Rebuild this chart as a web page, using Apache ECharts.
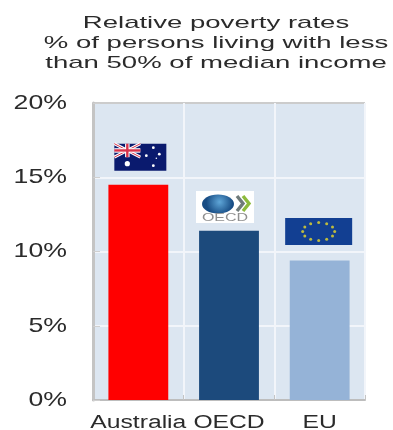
<!DOCTYPE html>
<html>
<head>
<meta charset="utf-8">
<style>
  html, body { margin: 0; padding: 0; background: #fff; }
  #chart { width: 393px; height: 430px; }
</style>
<script src="https://cdn.jsdelivr.net/npm/echarts@6/dist/echarts.min.js"></script>
</head>
<body>
<div id="chart"></div>
<script>
const titleLines = [
  'Relative poverty rates',
  '% of persons living with less',
  'than 50% of median income'
];
const categories = ['Australia', 'OECD', 'EU'];
const povertyRates = [14.5, 11.4, 9.4];
const barColors = ['#ff0000', '#1c4a7c', '#95b3d7'];
// Height on the rate scale at which each emblem is centred.
const emblemLevels = [16.35, 13.0, 11.35];
const yTicks = [0, 5, 10, 15, 20];
const fontFamily = '"Liberation Sans", Arial, sans-serif';
const textColor = '#2b2b2b';

function rect(x, y, width, height, fill) {
  return { type: 'rect', shape: { x, y, width, height }, style: { fill } };
}

function line(x1, y1, x2, y2, stroke, lineWidth) {
  return { type: 'line', shape: { x1, y1, x2, y2 }, style: { stroke, lineWidth } };
}

function dot(cx, cy, r, fill) {
  return { type: 'circle', shape: { cx, cy, r }, style: { fill } };
}

// Each emblem is built around its own centre point.
function australiaEmblem() {
  const w = 52, h = 27, l = -w / 2, t = -h / 2;
  const uw = 26, uh = 13.5;
  return [
    rect(l, t, w, h, '#0a1a6e'),
    line(l, t, l + uw, t + uh, '#ffffff', 3),
    line(l + uw, t, l, t + uh, '#ffffff', 3),
    line(l, t, l + uw, t + uh, '#d8324a', 1),
    line(l + uw, t, l, t + uh, '#d8324a', 1),
    line(l + uw / 2, t, l + uw / 2, t + uh, '#ffffff', 4.5),
    line(l, t + uh / 2, l + uw, t + uh / 2, '#ffffff', 4.5),
    line(l + uw / 2, t, l + uw / 2, t + uh, '#d8324a', 2.4),
    line(l, t + uh / 2, l + uw, t + uh / 2, '#d8324a', 2.4),
    dot(l + 13, t + 20, 2.6, '#ffffff'),
    dot(l + 39, t + 4, 1.4, '#ffffff'),
    dot(l + 45, t + 10.5, 1.4, '#ffffff'),
    dot(l + 32, t + 12, 1.4, '#ffffff'),
    dot(l + 39, t + 22, 1.4, '#ffffff'),
    dot(l + 42, t + 14.5, 0.8, '#ffffff')
  ];
}

function oecdEmblem() {
  const w = 58, h = 32, l = -w / 2, t = -h / 2;
  const chevron = (x, color) => ({
    type: 'polyline',
    shape: { points: [[x, t + 5], [x + 6, t + 12.5], [x, t + 20]] },
    style: { stroke: color, lineWidth: 3.4, fill: null }
  });
  return [
    rect(l, t, w, h, '#ffffff'),
    { type: 'ellipse', shape: { cx: l + 22, cy: t + 13, rx: 16, ry: 9.5 },
      style: { fill: { type: 'radial', x: 0.55, y: 0.4, r: 0.7,
        colorStops: [{ offset: 0, color: '#5fa6d8' }, { offset: 1, color: '#174c84' }] } } },
    chevron(l + 41, '#6f7a7a'),
    chevron(l + 47, '#8cba3c'),
    { type: 'text', name: 'emblemText', x: 0, y: t + 27, scaleX: 1.6,
      style: { text: 'OECD', fill: '#8f8f8f', font: '400 10px ' + fontFamily,
        align: 'center', verticalAlign: 'middle' } }
  ];
}

function euEmblem() {
  const w = 67, h = 27, l = -w / 2, t = -h / 2;
  const items = [rect(l, t, w, h, '#123f92')];
  for (let i = 0; i < 12; i++) {
    const a = i * Math.PI / 6;
    items.push(dot(Math.cos(a) * 16, Math.sin(a) * 9, 1.5, '#bdbb3e'));
  }
  return items;
}

const emblems = [australiaEmblem, oecdEmblem, euEmblem];
// Sideways nudge of each emblem from the centre of its column.
const emblemNudges = [2, -4, -1];

const titleText = titleLines.join('\n');
const yLabels = yTicks.map(t => t + '%');

const chart = echarts.init(document.getElementById('chart'), null, { renderer: 'canvas' });
chart.setOption({
  animation: false,
  backgroundColor: '#ffffff',
  title: {
    text: titleText,
    left: 211,
    top: 8,
    textAlign: 'center',
    textStyle: {
      fontFamily, fontSize: 17, fontWeight: 400, color: textColor, lineHeight: 20
    }
  },
  grid: {
    left: 93, right: 28, top: 103, bottom: 30,
    outerBoundsMode: 'none',
    show: true, backgroundColor: '#dce6f1', borderWidth: 0
  },
  xAxis: {
    type: 'category',
    data: categories,
    axisLine: { show: true, lineStyle: { color: '#bdbdbd', width: 2 } },
    axisTick: { show: true, inside: true, length: 5, lineStyle: { color: '#c4c4c4' } },
    splitLine: { show: true, lineStyle: { color: '#f2f5fa', width: 2 } },
    axisLabel: { fontFamily, fontSize: 18, color: textColor, margin: 14, interval: 0 }
  },
  yAxis: {
    type: 'value',
    min: yTicks[0],
    max: yTicks[yTicks.length - 1],
    interval: 5,
    axisLine: { show: true, lineStyle: { color: '#c4c4c4', width: 3 } },
    axisTick: { show: true, inside: true, length: 7, lineStyle: { color: '#cfcfcf' } },
    splitLine: { show: true, lineStyle: { color: ['#bdbdbd', '#f2f5fa', '#f2f5fa', '#f2f5fa', '#cccccc'], width: 2 } },
    axisLabel: { fontFamily, fontSize: 21, color: textColor, margin: 26, formatter: '{value}%' }
  },
  series: [
    {
      type: 'bar',
      data: povertyRates.map((value, i) => ({ value, itemStyle: { color: barColors[i] } })),
      barWidth: '66%',
      z: 3
    },
    {
      type: 'custom',
      data: emblemLevels.map((level, i) => [i, level]),
      z: 4,
      renderItem(params, api) {
        const [x, y] = api.coord([api.value(0), api.value(1)]);
        const i = params.dataIndex;
        return { type: 'group', x: x + emblemNudges[i], y, children: emblems[i]() };
      }
    }
  ]
});

// The lettering is set wide: stretch each label sideways about its anchor.
const widthFactors = new Map([[titleText, 1.62]]);
categories.forEach(c => widthFactors.set(c, 1.37));
yLabels.forEach(l => widthFactors.set(l, 1.27));

const zr = chart.getZr();
zr.storage.getDisplayList(true).forEach(el => {
  const host = el.type === 'tspan' && el.parent ? el.parent : el;
  const factor = host.style && widthFactors.get(host.style.text);
  if (factor && host.name !== 'emblemText' && host.scaleX !== factor) {
    host.scaleX = factor;
    host.markRedraw();
  }
});
zr.refresh();
</script>
</body>
</html>
